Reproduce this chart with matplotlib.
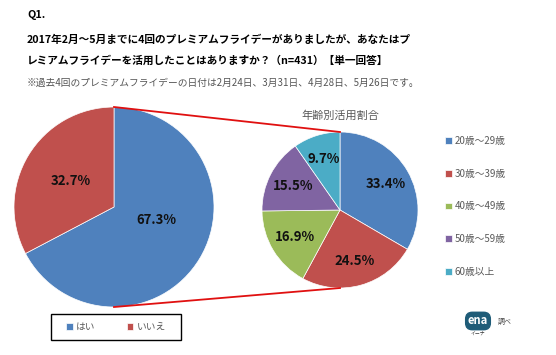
import matplotlib.pyplot as plt
from matplotlib.patches import Rectangle

plt.rcParams['font.family'] = ['Noto Sans CJK JP', 'DejaVu Sans']

# 活用有無 (n=431)
use_labels = ["はい", "いいえ"]
use_values = [67.3, 32.7]

# 年齢別活用割合
age_labels = ["20歳～29歳", "30歳～39歳", "40歳～49歳", "50歳～59歳", "60歳以上"]
age_values = [33.4, 24.5, 16.9, 15.5, 9.7]

use_colors = ["#4F81BD", "#C0504D"]
age_colors = ["#4F81BD", "#C0504D", "#9BBB59", "#8064A2", "#4BACC6"]

W, H = 556, 355
fig = plt.figure(figsize=(W / 100, H / 100), dpi=100)
ax = fig.add_axes([0, 0, 1, 1])

# header text
ax.text(27, H - 15, "Q1.", fontsize=7.8, fontweight="bold", va="center")
ax.text(27, H - 40, "2017年2月～5月までに4回のプレミアムフライデーがありましたが、あなたはプ",
        fontsize=7.7, fontweight="bold", va="center")
ax.text(27, H - 61, "レミアムフライデーを活用したことはありますか？（n=431）【単一回答】",
        fontsize=7.7, fontweight="bold", va="center")
ax.text(27, H - 83, "※過去4回のプレミアムフライデーの日付は2月24日、3月31日、4月28日、5月26日です。",
        fontsize=7.0, color="#555555", va="center")

# left pie
lc = (114, H - 207)
lr = 100
wl, tl, al = ax.pie(use_values, colors=use_colors, startangle=90, counterclock=False,
                    center=lc, radius=lr, autopct="%.1f%%", pctdistance=0.5,
                    wedgeprops=dict(edgecolor="white", linewidth=0.5),
                    textprops=dict(fontsize=9.5, fontweight="bold", color="#111111"),
                    frame=True)
# Excel put the big label a bit higher than the wedge middle
x0, y0 = al[0].get_position()
al[0].set_position((x0, y0 + 13))

# right pie
rc = (340, H - 210)
rr = 78
wr, tr, ar = ax.pie(age_values, colors=age_colors, startangle=90, counterclock=False,
                    center=rc, radius=rr, autopct="%.1f%%", pctdistance=0.68,
                    wedgeprops=dict(edgecolor="white", linewidth=0.5),
                    textprops=dict(fontsize=9.5, fontweight="bold", color="#111111"),
                    frame=True)
ax.set_xlim(0, W)
ax.set_ylim(0, H)
ax.set_aspect("equal")
ax.axis("off")

ax.text(rc[0], H - 116, "年齢別活用割合", fontsize=8, color="#595959", ha="center", va="center")

# connector lines
ax.plot([lc[0], rc[0]], [lc[1] + lr, rc[1] + rr], color="#E01010", lw=1.3)
ax.plot([lc[0], rc[0]], [lc[1] - lr, rc[1] - rr], color="#E01010", lw=1.3)

# right legend
fig.legend(wr, age_labels, loc="upper left", bbox_to_anchor=(436 / W, 1 - 127 / H),
           frameon=False, fontsize=7, labelspacing=2.35, handlelength=0.7,
           handleheight=0.7, handletextpad=0.3, labelcolor="#595959")

# bottom legend
ax.add_patch(Rectangle((51, H - 340), 130, 26, fill=False, edgecolor="black", lw=1))
fig.legend(wl, use_labels, loc="center", bbox_to_anchor=(116 / W, 1 - 327 / H),
           ncol=2, frameon=False, fontsize=7, handlelength=0.7, handleheight=0.7,
           handletextpad=0.3, columnspacing=3.2, labelcolor="#595959")

# ena logo
ax.text(478, H - 321, "ena", fontsize=8, fontweight="bold", color="white",
        ha="center", va="center",
        bbox=dict(boxstyle="round,pad=0.2,rounding_size=0.6", fc="#1F5C78", ec="#1F5C78"))
ax.text(478, H - 333, "イーナ", fontsize=3.5, color="#333333", ha="center", va="center")
ax.text(498, H - 322, "調べ", fontsize=5, color="#444444", ha="left", va="center")

fig.savefig("out.png", dpi=100)
